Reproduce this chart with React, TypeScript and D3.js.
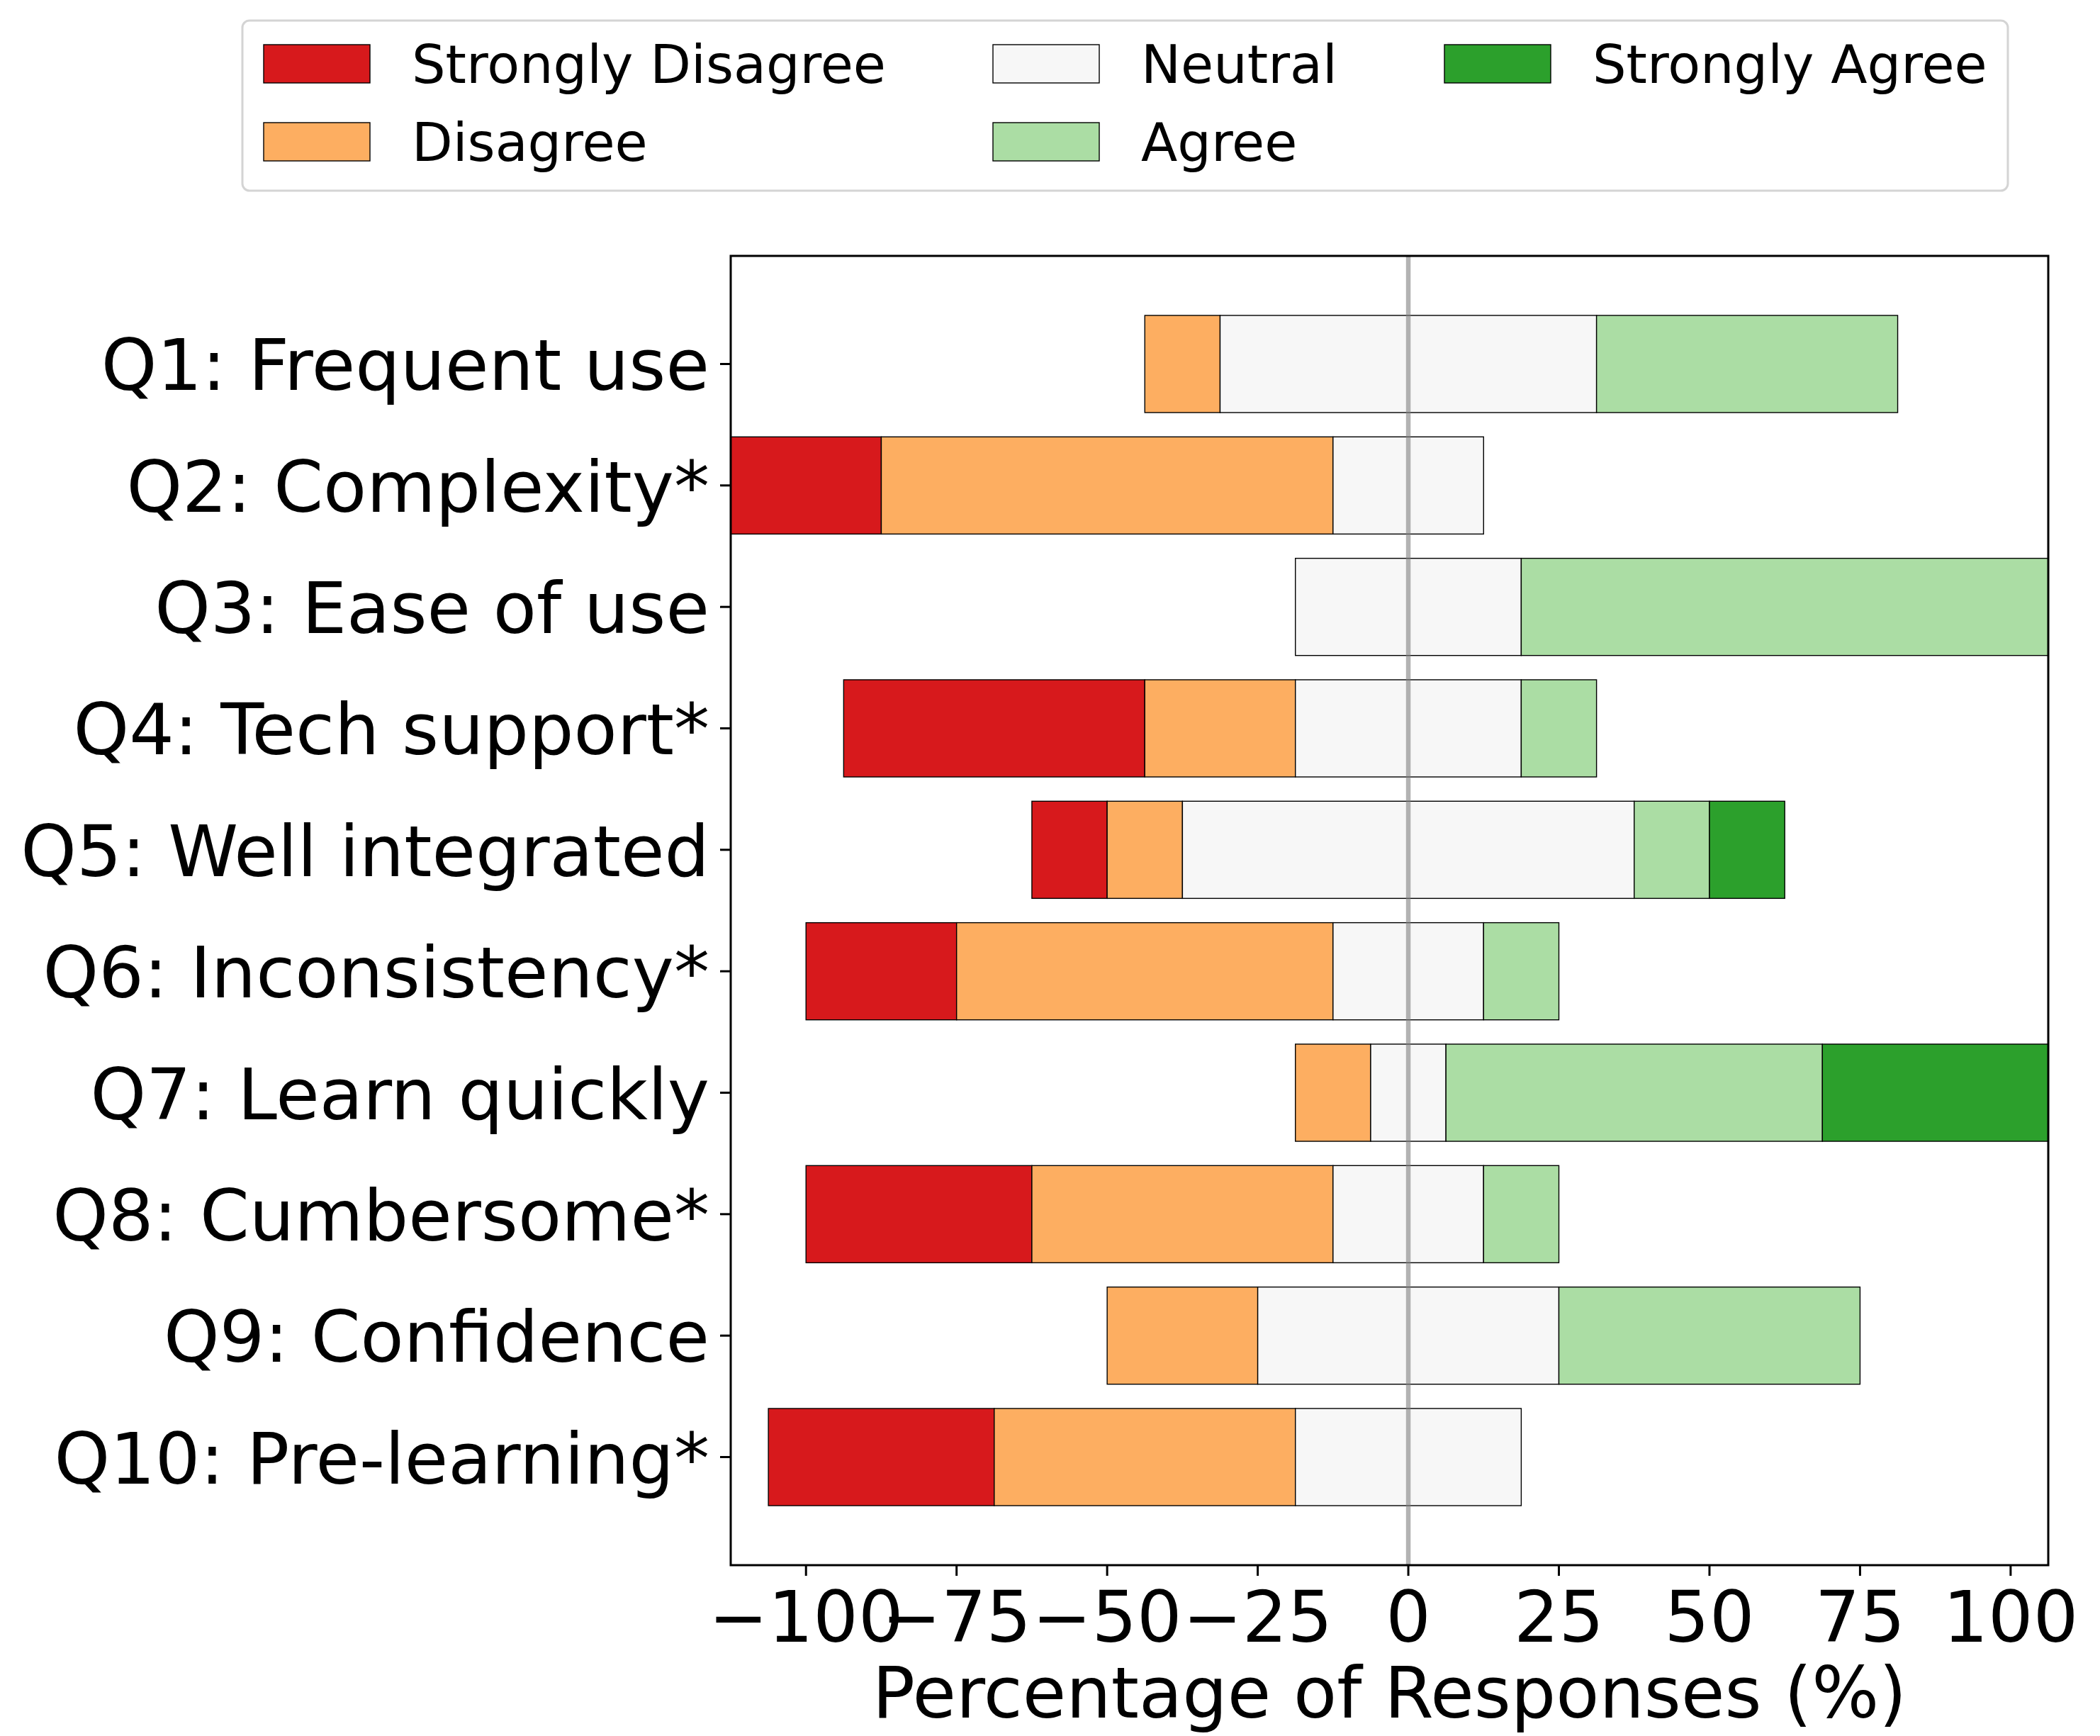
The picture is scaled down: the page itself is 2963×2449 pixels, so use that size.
import * as d3 from "d3";

const questions = [
  "Q1: Frequent use",
  "Q2: Complexity*",
  "Q3: Ease of use",
  "Q4: Tech support*",
  "Q5: Well integrated",
  "Q6: Inconsistency*",
  "Q7: Learn quickly",
  "Q8: Cumbersome*",
  "Q9: Confidence",
  "Q10: Pre-learning*",
];

// percentage of responses per category
const stronglyDisagree = [0, 25, 0, 50, 12.5, 25, 0, 37.5, 0, 37.5];
const disagree = [12.5, 75, 0, 25, 12.5, 62.5, 12.5, 50, 25, 50];
const neutral = [62.5, 25, 37.5, 37.5, 75, 25, 12.5, 25, 50, 37.5];
const agree = [50, 0, 87.5, 12.5, 12.5, 12.5, 62.5, 12.5, 50, 0];
const stronglyAgree = [0, 0, 0, 0, 12.5, 0, 37.5, 0, 0, 0];

const categories = ["Strongly Disagree", "Disagree", "Neutral", "Agree", "Strongly Agree"];
const colors = ["#d7191c", "#fdae61", "#f7f7f7", "#abdda4", "#2ca02c"];

const xTicks = [-100, -75, -50, -25, 0, 25, 50, 75, 100];

const W = 2963;
const H = 2449;
const plot = { left: 1031, right: 2890, top: 361, bottom: 2208 };
const font = "DejaVu Sans";

type Seg = { q: number; x0: number; x1: number; cat: number };

export default function App() {
  // left edge of each bar is at -(SD + D + N/2)
  const segs: Seg[] = [];
  questions.forEach((_, i) => {
    const half = neutral[i] / 2;
    const dStart = -half - disagree[i];
    const sdStart = dStart - stronglyDisagree[i];
    const aEnd = half + agree[i];
    const saEnd = aEnd + stronglyAgree[i];
    segs.push({ q: i, x0: sdStart, x1: dStart, cat: 0 });
    segs.push({ q: i, x0: dStart, x1: -half, cat: 1 });
    segs.push({ q: i, x0: -half, x1: half, cat: 2 });
    segs.push({ q: i, x0: half, x1: aEnd, cat: 3 });
    segs.push({ q: i, x0: aEnd, x1: saEnd, cat: 4 });
  });

  const minX = d3.min(segs, (s) => s.x0) ?? -100;
  const maxX = d3.max(segs, (s) => s.x1) ?? 100;

  const x = d3.scaleLinear().domain([minX, maxX]).range([plot.left, plot.right]);
  // matplotlib-style y limits: bars of height 0.8 plus 5% margin
  const y = d3
    .scaleLinear()
    .domain([-0.89, questions.length - 1 + 0.89])
    .range([plot.top, plot.bottom]);
  const barH = y(0.8) - y(0);

  const legendCols = [
    { x: 372, items: [0, 1] },
    { x: 1401, items: [2, 3] },
    { x: 2038, items: [4] },
  ];

  return (
    <svg width={W} height={H} style={{ display: "block" }} fontFamily={font}>
      <style>{`body{margin:0}`}</style>
      <rect width={W} height={H} fill="white" />
      <defs>
        <clipPath id="plot-clip">
          <rect x={plot.left} y={plot.top} width={plot.right - plot.left} height={plot.bottom - plot.top} />
        </clipPath>
      </defs>

      {/* stacked bars */}
      <g clipPath="url(#plot-clip)">
        {segs
          .filter((s) => s.x1 - s.x0 > 0)
          .map((s, k) => (
            <rect
              key={k}
              x={x(s.x0)}
              y={y(s.q) - barH / 2}
              width={x(s.x1) - x(s.x0)}
              height={barH}
              fill={colors[s.cat]}
              stroke="black"
              strokeWidth={1.4}
            />
          ))}
        {/* zero line */}
        <line
          x1={x(0)}
          x2={x(0)}
          y1={plot.top}
          y2={plot.bottom}
          stroke="#808080"
          strokeOpacity={0.6}
          strokeWidth={6.5}
        />
      </g>

      {/* frame */}
      <rect
        x={plot.left}
        y={plot.top}
        width={plot.right - plot.left}
        height={plot.bottom - plot.top}
        fill="none"
        stroke="black"
        strokeWidth={3}
      />

      {/* y axis */}
      {questions.map((q, i) => (
        <g key={q}>
          <line x1={plot.left - 15} x2={plot.left} y1={y(i)} y2={y(i)} stroke="black" strokeWidth={3} />
          <text x={plot.left - 30} y={y(i) + 37} textAnchor="end" fontSize={100} fill="black">
            {q}
          </text>
        </g>
      ))}

      {/* x axis */}
      {xTicks.map((t) => (
        <g key={t}>
          <line x1={x(t)} x2={x(t)} y1={plot.bottom} y2={plot.bottom + 15} stroke="black" strokeWidth={3} />
          <text x={x(t)} y={2316} textAnchor="middle" fontSize={100} fill="black">
            {t < 0 ? `\u2212${-t}` : t}
          </text>
        </g>
      ))}
      <text x={(plot.left + plot.right) / 2} y={2423} textAnchor="middle" fontSize={100} fill="black">
        Percentage of Responses (%)
      </text>

      {/* legend */}
      <rect x={342} y={29} width={2491} height={240} rx={10} fill="white" stroke="#d4d4d4" strokeWidth={3} />
      {legendCols.map((col) =>
        col.items.map((c, r) => (
          <g key={c}>
            <rect
              x={col.x}
              y={63 + r * 110}
              width={150}
              height={54}
              fill={colors[c]}
              stroke="black"
              strokeWidth={1.4}
            />
            <text x={col.x + 209} y={117 + r * 110} fontSize={75} fill="black">
              {categories[c]}
            </text>
          </g>
        )),
      )}
    </svg>
  );
}
